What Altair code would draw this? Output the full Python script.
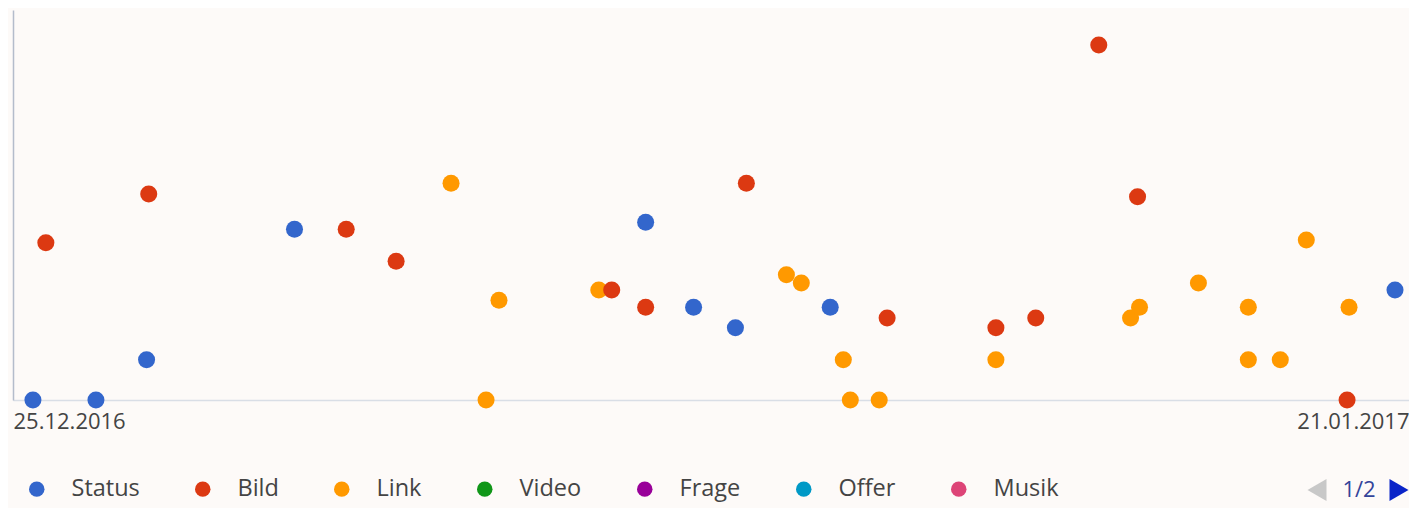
import altair as alt
import pandas as pd

categories = ["Status", "Bild", "Link", "Video", "Frage", "Offer", "Musik"]
palette = ["#3366cc", "#dc3912", "#ff9900", "#109618", "#990099", "#0099c6", "#dd4477"]

status_dates = ["2016-12-25T09:15", "2016-12-26T14:30", "2016-12-27T14:00", "2016-12-30T10:40",
                "2017-01-06T05:40", "2017-01-07T03:55", "2017-01-07T23:20", "2017-01-09T19:20",
                "2017-01-20T17:30"]
status_values = [0, 0, 10.3, 43.8, 45.6, 23.8, 18.5, 23.8, 28.2]

link_dates = ["2017-01-02T11:20", "2017-01-03T09:35", "2017-01-03T03:35", "2017-01-05T07:55",
              "2017-01-08T23:00", "2017-01-09T05:55", "2017-01-10T01:25", "2017-01-10T04:40",
              "2017-01-10T18:05", "2017-01-13T00:15", "2017-01-15T14:45", "2017-01-15T18:55",
              "2017-01-16T22:15", "2017-01-17T21:25", "2017-01-17T21:25", "2017-01-18T12:15",
              "2017-01-19T00:20", "2017-01-19T20:10"]
link_values = [55.6, 25.6, 0, 28.2, 32.1, 30.0, 10.3, 0, 0, 10.3, 21.0, 23.8, 30.0, 23.8, 10.3,
               10.3, 41.0, 23.8]

bild_dates = ["2016-12-25T15:15", "2016-12-27T15:00", "2016-12-31T10:40", "2017-01-01T09:50",
              "2017-01-05T13:55", "2017-01-06T05:40", "2017-01-08T04:25", "2017-01-10T21:45",
              "2017-01-13T00:15", "2017-01-13T18:45", "2017-01-15T00:00", "2017-01-15T18:00",
              "2017-01-19T19:15"]
bild_values = [40.3, 52.8, 43.8, 35.6, 28.2, 23.8, 55.6, 21.0, 18.5, 21.0, 91.0, 52.1, 0]

page_label = ["1/2"]

rows = []
for name, ds, vs in [("Status", status_dates, status_values),
                     ("Link", link_dates, link_values),
                     ("Bild", bild_dates, bild_values)]:
    for d, v in zip(ds, vs):
        rows.append({"Datum": d, "Wert": v, "Typ": name})
df = pd.DataFrame(rows)

start = alt.DateTime(year=2016, month=12, date=25)
end = alt.DateTime(year=2017, month=1, date=21)

FONT = "Open Sans"

points = alt.Chart(df).mark_circle(size=290, opacity=1).encode(
    x=alt.X("Datum:T",
            scale=alt.Scale(domain=[start, end]),
            axis=alt.Axis(values=[start, end], format="%d.%m.%Y", labelFlush=True,
                          ticks=False, tickSize=0, grid=False, title=None,
                          domainColor="#d9dee6", domainWidth=1.5,
                          labelFontSize=22, labelFont=FONT, labelColor="#444444",
                          labelPadding=11)),
    y=alt.Y("Wert:Q",
            scale=alt.Scale(domain=[0, 100], nice=False),
            axis=alt.Axis(labels=False, ticks=False, grid=False, title=None,
                          domainColor="#b4bccb", domainWidth=1.5)),
    color=alt.Color("Typ:N",
                    scale=alt.Scale(domain=categories, range=palette),
                    legend=alt.Legend(orient="none", legendX=12, legendY=467,
                                      direction="horizontal", title=None,
                                      symbolType="circle", symbolSize=240,
                                      symbolStrokeWidth=0,
                                      labelFontSize=23.5, labelFont=FONT,
                                      labelColor="#444444", labelOffset=23,
                                      columnPadding=51)),
)

pager = alt.Chart(pd.DataFrame({"t": page_label}))
left_arrow = pager.mark_point(shape="triangle-left", filled=True, size=480,
                              color="#c8c8c8", opacity=1).encode(
    x=alt.value(1304), y=alt.value(480))
right_arrow = pager.mark_point(shape="triangle-right", filled=True, size=480,
                               color="#0a24c8", opacity=1).encode(
    x=alt.value(1386), y=alt.value(480))
page_text = pager.mark_text(fontSize=22, font=FONT, color="#33449a",
                            align="center", baseline="middle").encode(
    x=alt.value(1346), y=alt.value(480), text="t:N")

chart = alt.layer(points, left_arrow, page_text, right_arrow).properties(
    width=1396, height=390,
    background="#fdfaf8",
    autosize=alt.AutoSizeParams(type="none"),
    padding={"left": 5, "top": 2, "right": 0, "bottom": 108},
).configure_view(stroke=None)

chart.save("out.html", embed_options={"renderer": "svg", "actions": False})
